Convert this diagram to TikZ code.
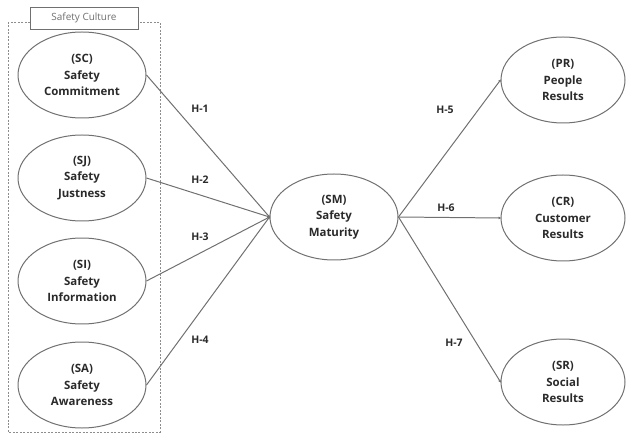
\documentclass[tikz,border=0pt]{standalone}
\usepackage{fontspec}
\setmainfont{Open Sans}[BoldFont={* Bold}]
\usetikzlibrary{shapes.geometric,arrows.meta}
\definecolor{edge}{HTML}{707070}
\definecolor{txt}{HTML}{2a2a2a}
\tikzset{
  construct/.style={ellipse,draw=edge,line width=1pt,minimum width=128bp,minimum height=86bp,inner sep=0pt,align=center,font=\fontsize{11.5}{16.5}\selectfont\bfseries,text=txt},
  path/.style={draw=edge,line width=1pt,-{Latex[length=3pt,width=3pt]},shorten >=-1pt},
  hlabel/.style={font=\fontsize{10.5}{12}\selectfont\bfseries,text=txt},
}
\begin{document}
\begin{tikzpicture}[x=1bp,y=-1bp]
\useasboundingbox (0,0) rectangle (626,434);
\draw[edge!80,dashed,line width=0.6pt,dash pattern=on 2pt off 1.5pt] (8,22) rectangle (160,432);
\node[draw=edge,fill=white,line width=0.7pt,minimum width=108bp,minimum height=22bp,inner sep=0pt,font=\fontsize{10}{12}\selectfont,text=edge] (cult) at (84,18) {Safety Culture};
\node[construct] (SC) at (82,75) {(SC)\\Safety\\Commitment};
\node[construct] (SJ) at (82,178) {(SJ)\\Safety\\Justness};
\node[construct] (SI) at (82,281) {(SI)\\Safety\\Information};
\node[construct] (SA) at (82,385) {(SA)\\Safety\\Awareness};
\node[construct] (SM) at (334,217) {(SM)\\Safety\\Maturity};
\node[construct,minimum width=124bp] (PR) at (563,80) {(PR)\\People\\Results};
\node[construct,minimum width=124bp] (CR) at (563,218) {(CR)\\Customer\\Results};
\node[construct,minimum width=124bp] (SR) at (563,382) {(SR)\\Social\\Results};
\draw[path] (SC.east) -- (SM.west);
\draw[path] (SJ.east) -- (SM.west);
\draw[path] (SI.east) -- (SM.west);
\draw[path] (SA.east) -- (SM.west);
\draw[path] (SM.east) -- (PR.west);
\draw[path] (SM.east) -- (CR.west);
\draw[path] (SM.east) -- (SR.west);
\node[hlabel] (h1) at (200,109) {H-1};
\node[hlabel] (h2) at (200,180) {H-2};
\node[hlabel] (h3) at (200,237) {H-3};
\node[hlabel] (h4) at (200,340) {H-4};
\node[hlabel] (h5) at (445,110) {H-5};
\node[hlabel] (h6) at (446,208) {H-6};
\node[hlabel] (h7) at (454,343) {H-7};
\end{tikzpicture}
\end{document}
